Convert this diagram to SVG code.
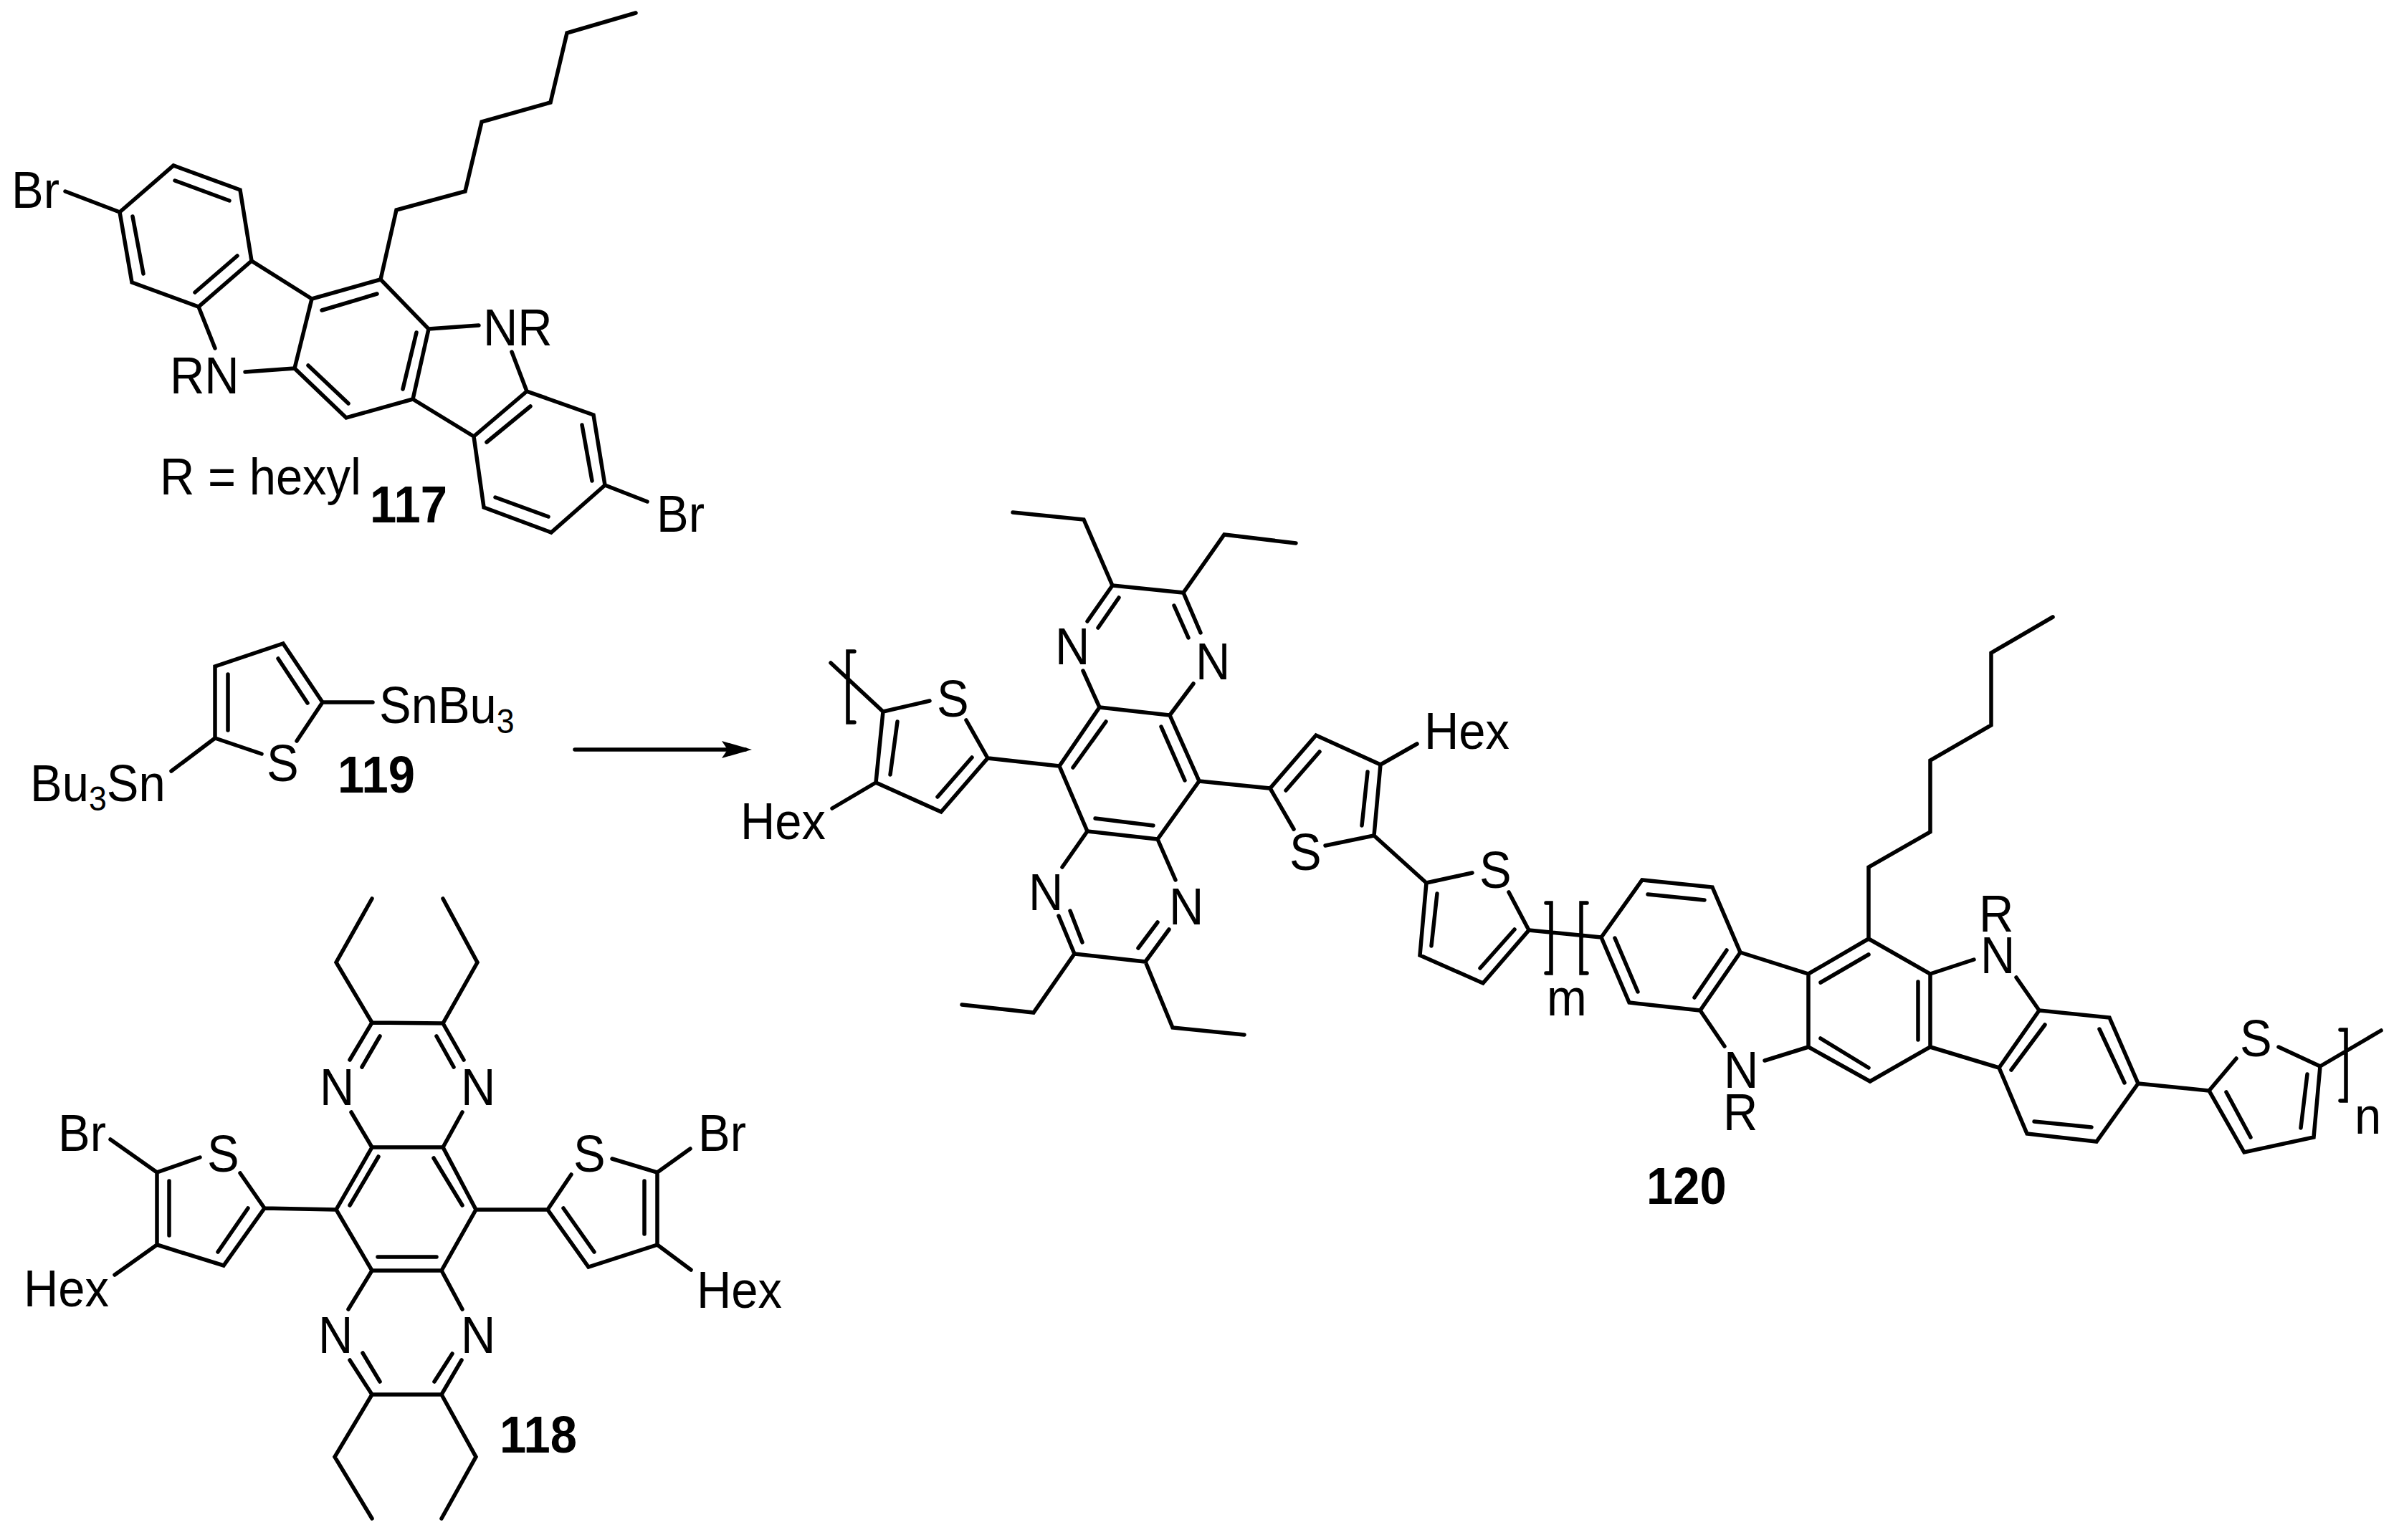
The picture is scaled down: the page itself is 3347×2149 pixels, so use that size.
<svg xmlns="http://www.w3.org/2000/svg" width="3347" height="2149" viewBox="0 0 3347 2149">
<style>
.b{fill:none;stroke:#000;stroke-width:5.5;stroke-linecap:round;stroke-linejoin:miter}
.t{font-family:"Liberation Sans",Arial,sans-serif;font-size:72px;fill:#000}
.l{font-family:"Liberation Sans",Arial,sans-serif;font-size:72px;font-weight:bold;fill:#000}
.s{font-size:48px}
</style>
<defs>
<marker id="ah" markerUnits="userSpaceOnUse" markerWidth="44" markerHeight="26" refX="34" refY="13" orient="auto"><path d="M1 1L43 13L1 25L9 13Z" fill="#000"/></marker>
</defs>
<rect width="3347" height="2149" fill="#fff"/>
<g id="mol-117">
<path class="b" d="M887 18L791 46L768 143L672 170L649 267L553 293L531 390L598 459L576 557L483 583L411 514L435 417L531 390M449 433L526 410M581 464L562 543M430 510L486 563M435 417L351 364L335 265L242 231L167 296L184 394L277 428L351 364M331 357L272 408M320 280L244 252M185 302L200 382M277 428L300 486M342 519L411 514M91 267L167 296M598 459L668 454M714 491L735 546L828 579L844 677L769 743L675 708L661 609L735 546M740 567L679 617M812 593L826 671M765 721L691 694M576 557L661 609M844 677L903 700"/>
<text class="t" transform="translate(16 290) scale(.93 1)">Br</text>
<text class="t" transform="translate(237 549) scale(.93 1)">RN</text>
<text class="t" transform="translate(674 482) scale(.93 1)">NR</text>
<text class="t" transform="translate(223 690) scale(.93 1)">R = hexyl</text>
<text class="l" transform="translate(516 729) scale(.93 1)">117</text>
<text class="t" transform="translate(916 742) scale(.93 1)">Br</text>
</g>
<g id="mol-119">
<path class="b" d="M300 1030L300 930L395 898L450 980M318 941L318 1019M388 919L429 981M300 1030L365 1052M450 980L414 1034M450 980L520 980M300 1030L239 1076"/>
<text class="t" transform="translate(372 1090) scale(.93 1)">S</text>
<text class="t" transform="translate(529 1009) scale(.93 1)">SnBu<tspan class="s" dy="14">3</tspan></text>
<text class="t" transform="translate(42 1118) scale(.93 1)">Bu<tspan class="s" dy="13">3</tspan><tspan dy="-13">Sn</tspan></text>
<text class="l" transform="translate(471 1106) scale(.93 1)">119</text>
</g>
<g id="connectors">
<path class="b" d="M802 1046L1040 1046" marker-end="url(#ah)"/>
</g>
<g id="mol-118">
<path class="b" d="M519 1254L469 1343L519 1427L618 1428L666 1343L618 1254M519 1427L488 1479M530 1446L505 1489M618 1428L647 1479M609 1446L633 1489M490 1552L519 1601M645 1552L618 1601M519 1601L618 1601L664 1688L616 1773L519 1773L469 1688L519 1601M528 1614L488 1682M605 1616L645 1682M527 1754L609 1754M469 1688L369 1686L312 1766L219 1737L219 1636L279 1615M369 1686L335 1637M346 1686L304 1747M236 1648L236 1724M219 1636L154 1590M219 1737L160 1779M664 1688L764 1688L821 1768L917 1737L917 1636L854 1617M764 1688L797 1639M786 1686L829 1747M899 1648L899 1722M917 1636L963 1603M917 1737L964 1772M519 1773L486 1827M616 1773L645 1827M488 1898L519 1946L616 1946L644 1898M506 1888L530 1928M631 1889L606 1928M519 2119L467 2033L519 1946M616 2119L664 2033L616 1946"/>
<text class="t" transform="translate(446 1542) scale(.93 1)">N</text>
<text class="t" transform="translate(643 1542) scale(.93 1)">N</text>
<text class="t" transform="translate(444 1888) scale(.93 1)">N</text>
<text class="t" transform="translate(643 1888) scale(.93 1)">N</text>
<text class="t" transform="translate(81 1606) scale(.93 1)">Br</text>
<text class="t" transform="translate(289 1635) scale(.93 1)">S</text>
<text class="t" transform="translate(33 1823) scale(.93 1)">Hex</text>
<text class="t" transform="translate(800 1635) scale(.93 1)">S</text>
<text class="t" transform="translate(974 1606) scale(.93 1)">Br</text>
<text class="t" transform="translate(972 1825) scale(.93 1)">Hex</text>
<text class="l" transform="translate(697 2027) scale(.93 1)">118</text>
</g>
<g id="mol-120">
<path class="b" d="M1413 715L1512 725L1552 817L1651 827L1708 746L1808 758M1552 817L1517 867M1561 834L1532 876M1651 827L1675 883M1638 845L1658 890M1511 936L1534 987M1665 954L1632 998M1534 987L1632 998L1673 1090L1615 1171L1517 1160L1478 1069L1534 987M1543 1007L1497 1071M1620 1014L1653 1089M1528 1142L1609 1152M1478 1069L1378 1058L1313 1133L1222 1092L1232 993L1297 978M1378 1058L1348 1005M1356 1057L1308 1112M1252 1007L1242 1081M1232 993L1159 925M1192 909L1183 909L1183 1008L1192 1008M1222 1092L1161 1128M1673 1090L1772 1100L1836 1026L1926 1067L1917 1166L1849 1180M1772 1100L1805 1157M1794 1103L1841 1049M1908 1077L1900 1152M1926 1067L1977 1038M1917 1166L1990 1232L1981 1333L2069 1372L2133 1298L2105 1245M1990 1232L2054 1218M2005 1247L1997 1320M2113 1297L2065 1351M1517 1160L1482 1210M1615 1171L1640 1228M1477 1278L1499 1331L1598 1342L1631 1297M1493 1271L1510 1315M1615 1287L1588 1323M1499 1331L1442 1413L1342 1402M1598 1342L1636 1434L1736 1444"/>
<path class="b" d="M2133 1298L2234 1308M2157 1260L2164 1260L2164 1358L2157 1358M2214 1260L2206 1260L2206 1358L2214 1358M2234 1308L2291 1228L2389 1238L2428 1329L2372 1410L2273 1399L2234 1308M2253 1309L2285 1384M2299 1248L2378 1256M2409 1326L2364 1392M2428 1329L2523 1359L2607 1310L2693 1359L2693 1461L2609 1509L2523 1461L2523 1359M2540 1371L2607 1332M2676 1370L2676 1451M2607 1490L2540 1449M2607 1310L2607 1210L2693 1161L2693 1061L2778 1012L2778 911L2864 861M2372 1410L2406 1460M2523 1461L2462 1480M2693 1359L2754 1339M2813 1364L2845 1410L2943 1420L2983 1512L2925 1593L2828 1582L2789 1490L2845 1410M2693 1461L2789 1490M2853 1430L2806 1493M2929 1436L2964 1511M2918 1573L2838 1565M2983 1512L3082 1522L3131 1608L3228 1587L3237 1488L3179 1461M3082 1522L3120 1477M3106 1524L3140 1587M3219 1499L3210 1574M3237 1488L3322 1438M3265 1437L3273 1437L3273 1536L3265 1536"/>
<text class="t" transform="translate(1472 927) scale(.93 1)">N</text>
<text class="t" transform="translate(1668 948) scale(.93 1)">N</text>
<text class="t" transform="translate(1435 1270) scale(.93 1)">N</text>
<text class="t" transform="translate(1631 1290) scale(.93 1)">N</text>
<text class="t" transform="translate(1033 1171) scale(.93 1)">Hex</text>
<text class="t" transform="translate(1307 1000) scale(.93 1)">S</text>
<text class="t" transform="translate(1799 1214) scale(.93 1)">S</text>
<text class="t" transform="translate(1987 1045) scale(.93 1)">Hex</text>
<text class="t" transform="translate(2064 1239) scale(.93 1)">S</text>
<text class="t" transform="translate(2158 1417) scale(.93 1)">m</text>
<text class="t" transform="translate(2405 1518) scale(.93 1)">N</text>
<text class="t" transform="translate(2404 1577) scale(.93 1)">R</text>
<text class="t" transform="translate(2763 1358) scale(.93 1)">N</text>
<text class="t" transform="translate(2761 1300) scale(.93 1)">R</text>
<text class="t" transform="translate(3125 1474) scale(.93 1)">S</text>
<text class="t" transform="translate(3285 1582) scale(.93 1)">n</text>
<text class="l" transform="translate(2297 1680) scale(.93 1)">120</text>
</g>
</svg>
